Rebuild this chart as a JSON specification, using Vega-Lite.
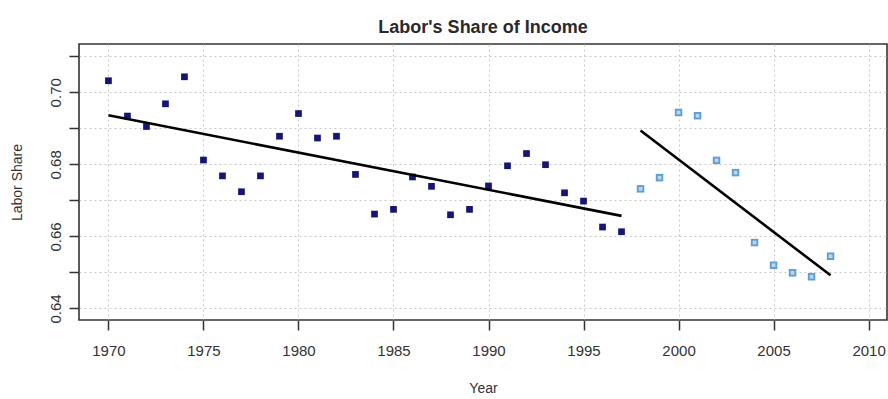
{
  "$schema": "https://vega.github.io/schema/vega-lite/v6.json",
  "width": 808,
  "height": 276,
  "autosize": {"type": "none"},
  "padding": {"left": 79, "top": 44, "right": 1, "bottom": 79},
  "background": "white",
  "config": {
    "font": "Liberation Sans",
    "view": {"stroke": "#333333", "strokeWidth": 1.6},
    "axis": {
      "domain": false,
      "grid": true,
      "gridColor": "#c8c8c8",
      "gridDash": [2, 3],
      "gridWidth": 1,
      "tickColor": "#333333",
      "tickWidth": 1.5,
      "tickSize": 10,
      "labelFont": "Liberation Sans",
      "labelFontSize": 15,
      "labelColor": "#333333",
      "titleFont": "Liberation Sans",
      "titleFontSize": 14,
      "titleFontWeight": "normal",
      "titleColor": "#333333"
    }
  },
  "title": {
    "text": "Labor's Share of Income",
    "fontSize": 18,
    "fontWeight": "bold",
    "color": "#2a2a2a",
    "anchor": "middle",
    "offset": 7
  },
  "datasets": {
    "pts": [
      {"year": 1970, "share": 0.7032, "period": "early"},
      {"year": 1971, "share": 0.6934, "period": "early"},
      {"year": 1972, "share": 0.6905, "period": "early"},
      {"year": 1973, "share": 0.6968, "period": "early"},
      {"year": 1974, "share": 0.7043, "period": "early"},
      {"year": 1975, "share": 0.6812, "period": "early"},
      {"year": 1976, "share": 0.6768, "period": "early"},
      {"year": 1977, "share": 0.6724, "period": "early"},
      {"year": 1978, "share": 0.6768, "period": "early"},
      {"year": 1979, "share": 0.6878, "period": "early"},
      {"year": 1980, "share": 0.6941, "period": "early"},
      {"year": 1981, "share": 0.6873, "period": "early"},
      {"year": 1982, "share": 0.6878, "period": "early"},
      {"year": 1983, "share": 0.6772, "period": "early"},
      {"year": 1984, "share": 0.6662, "period": "early"},
      {"year": 1985, "share": 0.6675, "period": "early"},
      {"year": 1986, "share": 0.6765, "period": "early"},
      {"year": 1987, "share": 0.6739, "period": "early"},
      {"year": 1988, "share": 0.6660, "period": "early"},
      {"year": 1989, "share": 0.6675, "period": "early"},
      {"year": 1990, "share": 0.6740, "period": "early"},
      {"year": 1991, "share": 0.6796, "period": "early"},
      {"year": 1992, "share": 0.6830, "period": "early"},
      {"year": 1993, "share": 0.6799, "period": "early"},
      {"year": 1994, "share": 0.6721, "period": "early"},
      {"year": 1995, "share": 0.6698, "period": "early"},
      {"year": 1996, "share": 0.6626, "period": "early"},
      {"year": 1997, "share": 0.6613, "period": "early"},
      {"year": 1998, "share": 0.6732, "period": "late"},
      {"year": 1999, "share": 0.6763, "period": "late"},
      {"year": 2000, "share": 0.6944, "period": "late"},
      {"year": 2001, "share": 0.6935, "period": "late"},
      {"year": 2002, "share": 0.6811, "period": "late"},
      {"year": 2003, "share": 0.6777, "period": "late"},
      {"year": 2004, "share": 0.6583, "period": "late"},
      {"year": 2005, "share": 0.6520, "period": "late"},
      {"year": 2006, "share": 0.6499, "period": "late"},
      {"year": 2007, "share": 0.6488, "period": "late"},
      {"year": 2008, "share": 0.6545, "period": "late"}
    ],
    "fit": [
      {"year": 1970, "share": 0.6936, "segment": "early"},
      {"year": 1997, "share": 0.6657, "segment": "early"},
      {"year": 1998, "share": 0.6894, "segment": "late"},
      {"year": 2008, "share": 0.6492, "segment": "late"}
    ]
  },
  "encoding": {
    "x": {
      "field": "year",
      "type": "quantitative",
      "scale": {"domain": [1968.45, 2010.97], "nice": false, "zero": false},
      "axis": {
        "title": "Year",
        "values": [1970, 1975, 1980, 1985, 1990, 1995, 2000, 2005, 2010],
        "format": "d",
        "labelPadding": 13,
        "titlePadding": 23
      }
    },
    "y": {
      "field": "share",
      "type": "quantitative",
      "scale": {"domain": [0.6368, 0.7134], "nice": false, "zero": false},
      "axis": {
        "title": "Labor Share",
        "values": [0.64, 0.65, 0.66, 0.67, 0.68, 0.69, 0.70, 0.71],
        "labelExpr": "round(datum.value*100) % 2 == 0 ? format(datum.value, '.2f') : ''",
        "labelAngle": -90,
        "labelAlign": "center",
        "labelBaseline": "bottom",
        "labelPadding": 6,
        "titlePadding": 24
      }
    }
  },
  "layer": [
    {
      "data": {"name": "pts"},
      "transform": [{"filter": "datum.period == 'early'"}],
      "mark": {"type": "point", "shape": "square", "filled": true, "size": 45, "color": "#14147a", "opacity": 1}
    },
    {
      "data": {"name": "pts"},
      "transform": [{"filter": "datum.period == 'late'"}],
      "mark": {"type": "point", "shape": "square", "filled": true, "size": 56, "color": "#5e9dd5", "opacity": 1}
    },
    {
      "data": {"name": "pts"},
      "transform": [{"filter": "datum.period == 'late'"}],
      "mark": {"type": "point", "shape": "square", "filled": true, "size": 14, "color": "#b9d6f0", "opacity": 1}
    },
    {
      "data": {"name": "fit"},
      "mark": {"type": "line", "color": "#000000", "strokeWidth": 2.6},
      "encoding": {"detail": {"field": "segment"}}
    }
  ]
}
